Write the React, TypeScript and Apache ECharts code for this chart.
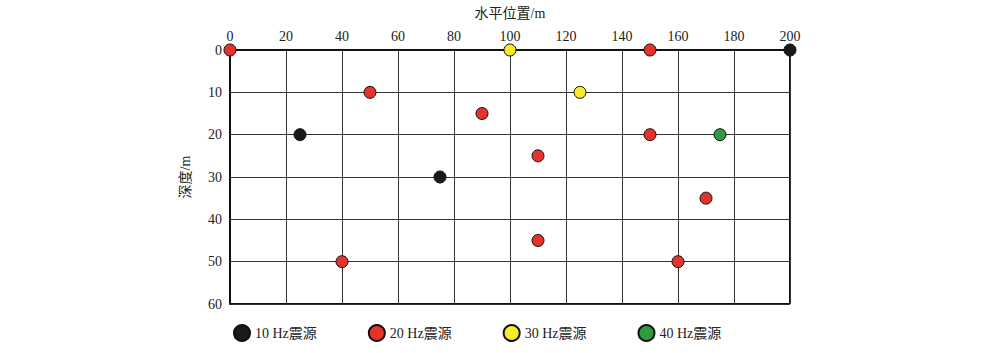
import React, { useEffect, useRef } from "react";
import * as echarts from "echarts";

const xTicks = [0, 20, 40, 60, 80, 100, 120, 140, 160, 180, 200];
const yTicks = [0, 10, 20, 30, 40, 50, 60];
const seriesNames = ["10 Hz震源", "20 Hz震源", "30 Hz震源", "40 Hz震源"];
const seriesColors = ["#1a1a1a", "#e5332c", "#f6ea2c", "#2f9a3f"];
const src10: number[][] = [[25, 20], [75, 30], [200, 0]];
const src20: number[][] = [[0, 0], [50, 10], [90, 15], [110, 25], [150, 0], [150, 20], [170, 35], [110, 45], [40, 50], [160, 50]];
const src30: number[][] = [[100, 0], [125, 10]];
const src40: number[][] = [[175, 20]];
const allData = [src10, src20, src30, src40];

const FONT = "'Liberation Serif', 'Noto Sans CJK SC', serif";

export default function App() {
  const ref = useRef<HTMLDivElement>(null);
  useEffect(() => {
    if (!ref.current) return;
    const chart = echarts.init(ref.current, undefined, { renderer: "svg" });
    chart.setOption({
      animation: false,
      backgroundColor: "#ffffff",
      textStyle: { fontFamily: FONT },
      grid: { left: 230, right: 210, top: 50, bottom: 49, outerBoundsMode: "none", containLabel: false },
      legend: {
        data: seriesNames,
        left: 228,
        top: 319,
        itemWidth: 16,
        itemHeight: 16,
        itemGap: 51,
        icon: "circle",
        textStyle: { fontFamily: FONT, fontSize: 14, color: "#222" },
      },
      xAxis: {
        type: "value",
        position: "top",
        min: 0,
        max: 200,
        interval: 20,
        name: "水平位置/m",
        nameLocation: "middle",
        nameGap: 30,
        nameTextStyle: { fontFamily: FONT, fontSize: 14, color: "#222" },
        axisLine: { show: true, lineStyle: { color: "#111", width: 2 } },
        axisTick: { show: false },
        axisLabel: { fontFamily: FONT, fontSize: 14, color: "#222", margin: 7 },
        splitLine: { show: true, lineStyle: { color: "#333", width: 1 } },
      },
      yAxis: {
        type: "value",
        inverse: true,
        min: 0,
        max: 60,
        interval: 10,
        name: "深度/m",
        nameLocation: "middle",
        nameGap: 38,
        nameTextStyle: { fontFamily: FONT, fontSize: 14, color: "#222" },
        axisLine: { show: true, lineStyle: { color: "#111", width: 2 } },
        axisTick: { show: false },
        axisLabel: { fontFamily: FONT, fontSize: 14, color: "#222", margin: 8 },
        splitLine: { show: true, lineStyle: { color: "#333", width: 1 } },
      },
      series: seriesNames.map((name, i) => ({
        name,
        type: "scatter",
        data: allData[i],
        symbol: "circle",
        symbolSize: 12,
        itemStyle: { color: seriesColors[i], borderColor: "#111", borderWidth: 1, opacity: 1 },
        z: 5,
      })),
      graphic: [
        {
          type: "line",
          shape: { x1: 790, y1: 50, x2: 790, y2: 304 },
          style: { stroke: "#111", lineWidth: 2 },
        },
        {
          type: "line",
          shape: { x1: 230, y1: 304, x2: 790, y2: 304 },
          style: { stroke: "#111", lineWidth: 2 },
        },
      ],
    });
    return () => chart.dispose();
  }, []);
  return <div ref={ref} style={{ width: 1000, height: 353, position: "absolute", left: 0, top: 0 }} />;
}
